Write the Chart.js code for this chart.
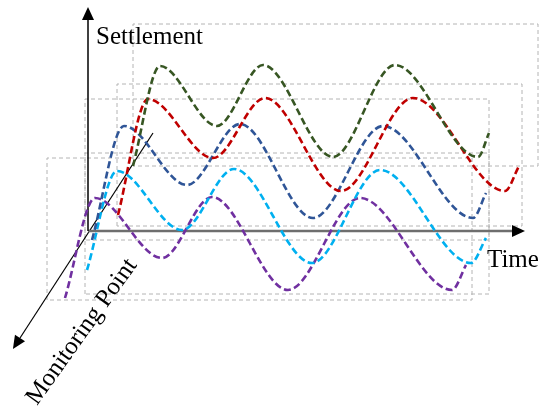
<!DOCTYPE html>
<html>
<head>
<meta charset="utf-8">
<script src="https://cdn.jsdelivr.net/npm/chart.js@4"></script>
<style>
  html, body { margin: 0; padding: 0; background: #fff; }
  #wrap { width: 550px; height: 413px; }
</style>
</head>
<body>
<div id="wrap"><canvas id="c" width="550" height="413"></canvas></div>
<script>
// ─── Data (picture coordinates) ───────────────────────────────────────────────
const greenX  = [133, 160, 217, 263, 333, 395, 478, 489];
const greenY  = [166,  66, 126,  65, 157,  65, 157, 133];
const redX    = [118, 148, 213, 265, 341, 413, 505, 519];
const redY    = [215,  99, 158,  98, 191,  98, 191, 166];
const blueX   = [ 92, 124, 187, 240, 313, 383, 473, 486];
const blueY   = [240, 126, 185, 124, 218, 126, 218, 193];
const cyanX   = [ 87, 117, 182, 234, 312, 380, 471, 486];
const cyanY   = [270, 171, 230, 169, 263, 170, 263, 238];
const purpleX = [ 65,  95, 162, 212, 288, 360, 452, 466];
const purpleY = [298, 198, 258, 197, 290, 198, 290, 265];

// background frames: [left, top, right, bottom]
const frames = [
  [133,  24, 538, 166],
  [117,  84, 522, 226],
  [ 85,  99, 489, 240],
  [ 85, 153, 489, 294],
  [ 47, 158, 472, 300]
];

// axes: [x0, y0, x1, y1]
const axisSettlement = [88, 231, 88, 20];
const axisTime       = [88, 231, 512, 231];
const axisMonitor    = [153, 133, 20, 338];

const labels = [
  { text: "Settlement",       x: 96,  y: 44,  angle: 0 },
  { text: "Time",             x: 487, y: 267, angle: 0 },
  { text: "Monitoring Point", x: 37,  y: 406, angle: -54.5 }
];

// ─── Helpers ──────────────────────────────────────────────────────────────────
const pts = (xs, ys) => xs.map((x, i) => ({ x, y: ys[i] }));

function curve(xs, ys, color) {
  return {
    data: pts(xs, ys),
    borderColor: color,
    borderWidth: 2.6,
    borderDash: [7, 3.5],
    pointRadius: 0,
    cubicInterpolationMode: "monotone",
    order: 1
  };
}

function frame(f) {
  const [l, t, r, b] = f;
  return {
    data: [{x: l, y: b}, {x: l, y: t}, {x: r, y: t}, {x: r, y: b}, {x: l, y: b}],
    borderColor: "#b4b4b4",
    borderWidth: 1,
    borderDash: [4, 3],
    pointRadius: 0,
    tension: 0,
    order: 10
  };
}

function axis(a, color, width) {
  return {
    data: [{x: a[0], y: a[1]}, {x: a[2], y: a[3]}],
    borderColor: color,
    borderWidth: width,
    pointRadius: 0,
    tension: 0,
    order: 5
  };
}

// arrowheads + labels drawn through the scales
const decor = {
  id: "decor",
  afterDatasetsDraw(chart) {
    const { ctx, scales: { x, y } } = chart;
    const heads = [axisSettlement, axisTime, axisMonitor];
    ctx.save();
    ctx.fillStyle = "#000";
    heads.forEach(a => {
      const px = x.getPixelForValue(a[2]), py = y.getPixelForValue(a[3]);
      const qx = x.getPixelForValue(a[0]), qy = y.getPixelForValue(a[1]);
      const ang = Math.atan2(py - qy, px - qx);
      const L = 13, W = 6;
      ctx.beginPath();
      ctx.moveTo(px + Math.cos(ang) * L, py + Math.sin(ang) * L);
      ctx.lineTo(px - Math.sin(ang) * W, py + Math.cos(ang) * W);
      ctx.lineTo(px + Math.sin(ang) * W, py - Math.cos(ang) * W);
      ctx.closePath();
      ctx.fill();
    });
    ctx.font = "25px 'Liberation Serif', 'Times New Roman', serif";
    ctx.textBaseline = "alphabetic";
    labels.forEach(l => {
      ctx.save();
      ctx.translate(x.getPixelForValue(l.x), y.getPixelForValue(l.y));
      ctx.rotate(l.angle * Math.PI / 180);
      ctx.fillText(l.text, 0, 0);
      ctx.restore();
    });
    ctx.restore();
  }
};

// ─── Chart ────────────────────────────────────────────────────────────────────
new Chart(document.getElementById("c"), {
  type: "line",
  data: {
    datasets: [
      curve(greenX,  greenY,  "#375623"),
      curve(redX,    redY,    "#c00000"),
      curve(blueX,   blueY,   "#2f5597"),
      curve(cyanX,   cyanY,   "#00b0f0"),
      curve(purpleX, purpleY, "#7030a0"),
      ...frames.map(frame),
      axis(axisSettlement, "#000", 1.5),
      axis(axisTime, "#6e6e6e", 2.5),
      axis(axisMonitor, "#000", 1.2)
    ]
  },
  options: {
    responsive: false,
    animation: false,
    parsing: true,
    layout: { padding: 0 },
    scales: {
      x: { type: "linear", min: 0, max: 550, display: false },
      y: { type: "linear", min: 0, max: 413, reverse: true, display: false }
    },
    plugins: { legend: { display: false }, tooltip: { enabled: false } }
  },
  plugins: [decor]
});
</script>
</body>
</html>
